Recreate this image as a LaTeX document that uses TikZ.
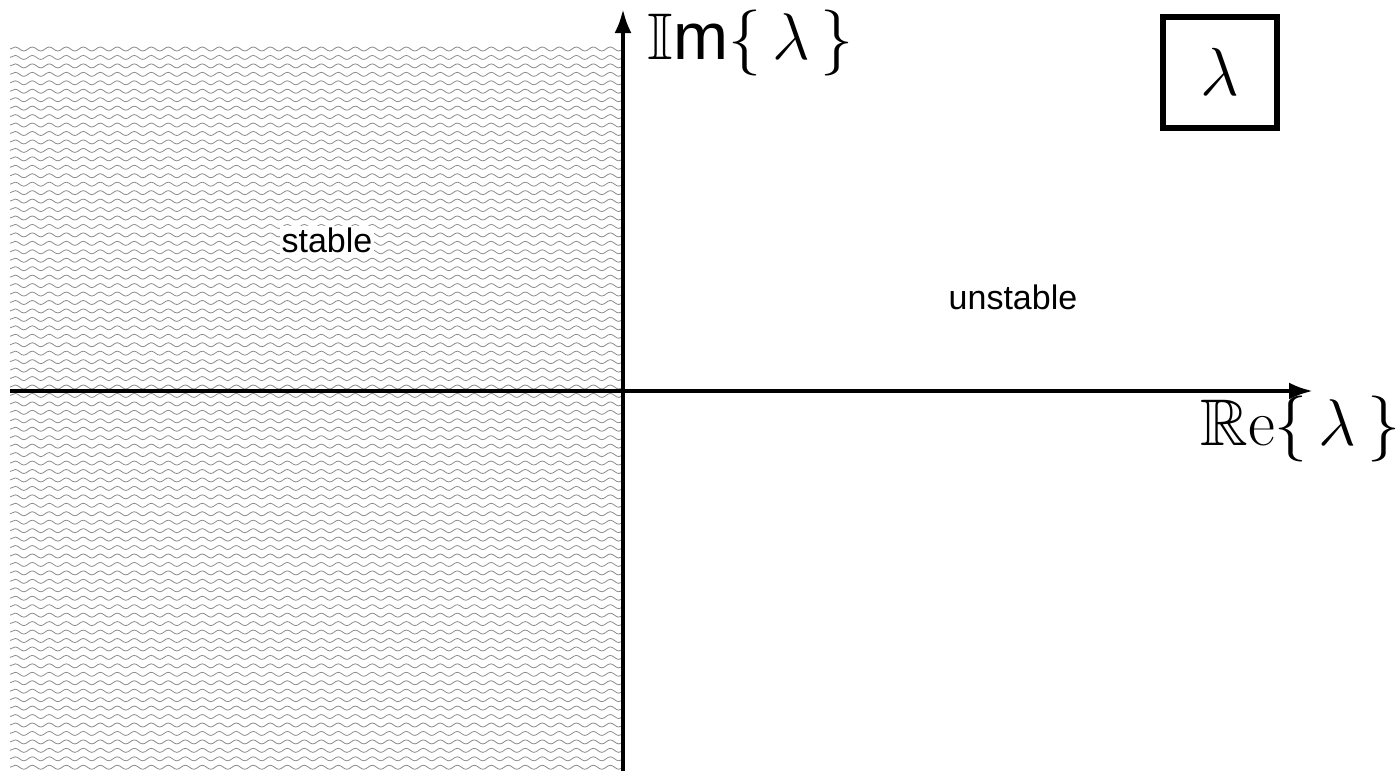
\RequirePackage{fix-cm}
\documentclass[tikz,border=0pt]{standalone}
\usepackage{amssymb}
\usepackage{fontspec}
\setsansfont{Liberation Sans}
\usetikzlibrary{arrows.meta,decorations.pathmorphing}
\begin{document}
\begin{tikzpicture}[x=0.5pt,y=-0.5pt,
  axis/.style={line width=2pt,-{Latex[length=12pt,width=8.5pt]}},
  wave/.style={draw=black!45,line width=0.4pt,decorate,decoration={snake,segment length=8.5pt,amplitude=1pt}},
  region/.style={font=\sffamily\fontsize{17}{20}\selectfont},
  axlabel/.style={font=\fontsize{33}{40}\selectfont,inner sep=0pt,anchor=base west}]
\useasboundingbox (0,0) rectangle (1399,771);
\begin{scope}
\clip (10,44) rectangle (621,771);
\foreach \k in {0,...,86}{
  \draw[wave] (10,{49+8.45*\k}) -- (625,{49+8.45*\k});
}
\end{scope}
\coordinate (xs) at (10,391);
\coordinate (xe) at (1313,391);
\coordinate (ys) at (623,771);
\coordinate (ye) at (623,9);
\draw[axis] (xs) -- (xe);
\draw[axis] (ys) -- (ye);
\node[axlabel] (im) at (647,60) {$\mathbb{I}\mathsf{m}\{\,\lambda\,\}$};
\node[axlabel] (re) at (1200,445) {$\mathbb{R}\mathrm{e}\{\,\lambda\,\}$};
\node[draw,line width=3pt,minimum width=57pt,minimum height=55.5pt,inner sep=0pt,font=\fontsize{34}{40}\selectfont] (box) at (1220,72) {$\lambda$};
\node[region,fill=white,inner sep=1pt] (stable) at (327,240) {stable};
\node[region] (unstable) at (1013,297) {unstable};
\end{tikzpicture}
\end{document}
